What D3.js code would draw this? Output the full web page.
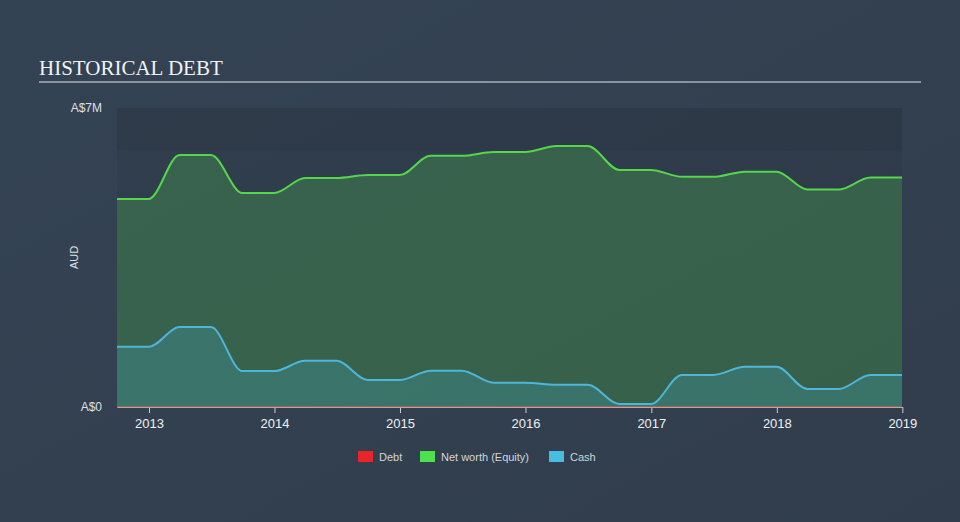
<!DOCTYPE html>
<html>
<head>
<meta charset="utf-8">
<script src="https://cdn.jsdelivr.net/npm/d3@7"></script>
<style>
  html, body { margin: 0; padding: 0; background: #333f4f; }
  svg { display: block; }
</style>
</head>
<body>
<svg id="chart" width="960" height="522"></svg>
<script>
// ---- Data (quarter-end dates, values in AUD) ----
const dates = [
  "2012-09-30","2012-12-31","2013-03-31","2013-06-30","2013-09-30","2013-12-31",
  "2014-03-31","2014-06-30","2014-09-30","2014-12-31","2015-03-31","2015-06-30",
  "2015-09-30","2015-12-31","2016-03-31","2016-06-30","2016-09-30","2016-12-31",
  "2017-03-31","2017-06-30","2017-09-30","2017-12-31","2018-03-31","2018-06-30",
  "2018-09-30","2018-12-31"
];
const debt = [0,0,0,0,0,0,0,0,0,0,0,0,0,0,0,0,0,0,0,0,0,0,0,0,0,0];
const netWorth = [
  4.87e6,4.87e6, 5.90e6,5.90e6, 5.01e6,5.01e6, 5.36e6,5.36e6, 5.43e6,5.43e6,
  5.88e6,5.88e6, 5.97e6,5.97e6, 6.11e6,6.11e6, 5.55e6,5.55e6, 5.39e6,5.39e6,
  5.51e6,5.51e6, 5.09e6,5.09e6, 5.37e6,5.37e6
];
const cash = [
  1.41e6,1.41e6, 1.87e6,1.87e6, 0.84e6,0.84e6, 1.08e6,1.08e6, 0.63e6,0.63e6,
  0.85e6,0.85e6, 0.57e6,0.57e6, 0.52e6,0.52e6, 0.07e6,0.07e6, 0.75e6,0.75e6,
  0.94e6,0.94e6, 0.42e6,0.42e6, 0.75e6,0.75e6
];
const yTickValues = [0, 7e6];
const yTickLabels = ["A$0", "A$7M"];
const xTickYears = [2013, 2014, 2015, 2016, 2017, 2018, 2019];
const legendItems = ["Debt", "Net worth (Equity)", "Cash"];

// ---- Layout ----
const svg = d3.select("#chart");
const W = 960, H = 522;
const m = { left: 117, right: 58, top: 108, bottom: 115 };
const pw = W - m.left - m.right, ph = H - m.top - m.bottom;

const parse = d3.timeParse("%Y-%m-%d");
const rows = dates.map((d, i) => ({ date: parse(d), debt: debt[i], nw: netWorth[i], cash: cash[i] }));

const x = d3.scaleTime()
  .domain([rows[0].date, rows[rows.length - 1].date])
  .range([m.left, m.left + pw]);
const y = d3.scaleLinear().domain([0, 7e6]).range([m.top + ph, m.top]);

// Background gradient
const defs = svg.append("defs");
const bg = defs.append("linearGradient").attr("id", "bg").attr("x1", 0).attr("y1", 0).attr("x2", 1).attr("y2", 1);
bg.append("stop").attr("offset", "0%").attr("stop-color", "#344354");
bg.append("stop").attr("offset", "100%").attr("stop-color", "#313d4c");
svg.append("rect").attr("width", W).attr("height", H).attr("fill", "url(#bg)");

// Title
svg.append("text").attr("x", 39).attr("y", 75)
  .attr("font-family", "'Liberation Serif', 'Times New Roman', serif")
  .attr("font-size", 21).attr("fill", "#f2f2f2").text("HISTORICAL DEBT");
svg.append("line").attr("x1", 39).attr("x2", 921).attr("y1", 82).attr("y2", 82)
  .attr("stroke", "#a9b0b8").attr("stroke-width", 1.5);

// Plot background with bands
svg.append("rect").attr("x", m.left).attr("y", m.top).attr("width", pw).attr("height", ph)
  .attr("fill", "#000").attr("opacity", 0.05);
svg.append("rect").attr("x", m.left).attr("y", m.top).attr("width", pw).attr("height", y(6e6) - m.top)
  .attr("fill", "#000").attr("opacity", 0.04);

const curve = d3.curveMonotoneX;

// Net worth area + line
svg.append("path").datum(rows)
  .attr("d", d3.area().x(d => x(d.date)).y0(y(0)).y1(d => y(d.nw)).curve(curve))
  .attr("fill", "#4fd44f").attr("fill-opacity", 0.25);
// Cash area
svg.append("path").datum(rows)
  .attr("d", d3.area().x(d => x(d.date)).y0(y(0)).y1(d => y(d.cash)).curve(curve))
  .attr("fill", "#4ab8d8").attr("fill-opacity", 0.22);

svg.append("path").datum(rows)
  .attr("d", d3.line().x(d => x(d.date)).y(d => y(d.nw)).curve(curve))
  .attr("fill", "none").attr("stroke", "#55d64b").attr("stroke-width", 2);
svg.append("path").datum(rows)
  .attr("d", d3.line().x(d => x(d.date)).y(d => y(d.cash)).curve(curve))
  .attr("fill", "none").attr("stroke", "#4db6d9").attr("stroke-width", 2);

// X axis
const xAxis = d3.axisBottom(x)
  .tickValues(xTickYears.map(yr => new Date(yr, 0, 1)))
  .tickFormat(d3.timeFormat("%Y"))
  .tickSize(6).tickSizeOuter(0);
const gx = svg.append("g").attr("transform", `translate(0,${m.top + ph})`).call(xAxis);
gx.select(".domain").attr("stroke", "#c9ced6").attr("stroke-width", 1);
gx.selectAll(".tick line").attr("stroke", "#c9ced6");
gx.selectAll(".tick text").attr("fill", "#eef0f2").attr("font-size", 13)
  .attr("font-family", "'Liberation Sans', Arial, sans-serif").attr("dy", "0.9em");

// Debt line (zero)
svg.append("path").datum(rows)
  .attr("d", d3.line().x(d => x(d.date)).y(d => y(d.debt)).curve(curve))
  .attr("fill", "none").attr("stroke", "#d9695a").attr("stroke-width", 1.2);

// Y axis labels
const gy = svg.append("g");
gy.selectAll("text").data(yTickValues).join("text")
  .attr("x", 102).attr("y", d => y(d)).attr("dy", "0.35em")
  .attr("text-anchor", "end").attr("fill", "#dde1e6").attr("font-size", 12)
  .attr("font-family", "'Liberation Sans', Arial, sans-serif")
  .text((d, i) => yTickLabels[i]);
svg.append("text").attr("transform", `translate(78,${m.top + ph / 2}) rotate(-90)`)
  .attr("text-anchor", "middle").attr("fill", "#dde1e6").attr("font-size", 11)
  .attr("font-family", "'Liberation Sans', Arial, sans-serif").text("AUD");

// Legend
const legendColors = ["#e8262a", "#4fe04f", "#48bde0"];
const legendX = [358, 420, 549];
const lg = svg.append("g");
legendItems.forEach((name, i) => {
  lg.append("rect").attr("x", legendX[i]).attr("y", 451).attr("width", 15).attr("height", 11)
    .attr("fill", legendColors[i]);
  lg.append("text").attr("x", legendX[i] + 21).attr("y", 460.5)
    .attr("fill", "#d0d5db").attr("font-size", 11)
    .attr("font-family", "'Liberation Sans', Arial, sans-serif").text(name);
});
</script>
</body>
</html>
